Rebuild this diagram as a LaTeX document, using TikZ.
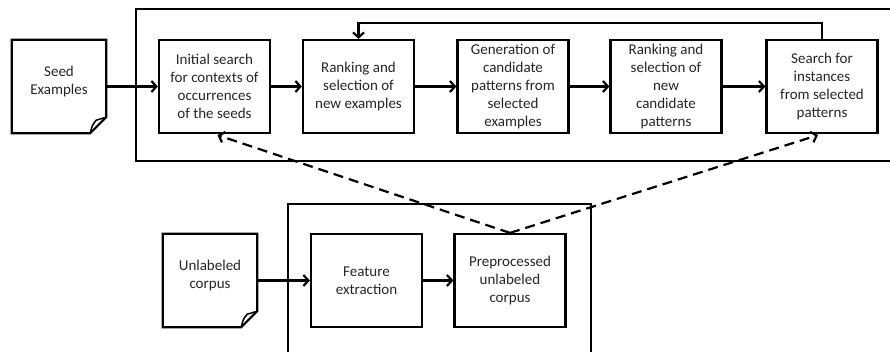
\documentclass[tikz,border=0pt]{standalone}
\usepackage{fontspec}
\setmainfont{Carlito}
\usetikzlibrary{arrows.meta,calc}
\begin{document}
\begin{tikzpicture}[x=1pt,y=-1pt,
  every node/.style={font=\fontsize{15}{18}\selectfont, text=black!85},
  stepbox/.style={draw=black, line width=2.2pt, minimum width=111pt,
    minimum height=93pt, inner sep=0pt, align=center},
  docbox/.style={minimum width=94pt, minimum height=93pt, inner sep=0pt},
  frame/.style={draw=black, line width=2.2pt},
  flow/.style={draw=black, line width=2.2pt,
    -{Straight Barb[length=5pt,width=11pt]}},
  link/.style={flow, dash pattern=on 10pt off 6pt}
]
\useasboundingbox (0,0) rectangle (890,352);
\clip (0,0) rectangle (890,352);

% enclosing frames (both run past the page edge)
\draw[frame] (136,9) rectangle (900,161);
\draw[frame] (288,204) rectangle (591,370);

% bootstrapping steps
\node[stepbox] (s1) at (214.5,86.5) {Initial search\\for contexts of\\occurrences\\of the seeds};
\node[stepbox] (s2) at (358.5,86.5) {Ranking and\\selection of\\new examples};
\node[stepbox] (s3) at (513,86.5) {Generation of\\candidate\\patterns from\\selected\\examples};
\node[stepbox] (s4) at (666,86.5) {Ranking and\\selection of\\new\\candidate\\patterns};
\node[stepbox] (s5) at (822,86.5) {Search for\\instances\\from selected\\patterns};

% preprocessing steps
\node[stepbox] (feat) at (366.5,280.5) {Feature\\extraction};
\node[stepbox] (prep) at (510,280.5) {Preprocessed\\unlabeled\\corpus};

% documents with a folded corner
\newcommand{\docshape}[1]{%
  \draw[line width=2.2pt, line join=miter]
    (#1.north west) -- (#1.north east) -- ($(#1.south east)+(0,-16)$)
    -- ($(#1.south east)+(-16,0)$) -- (#1.south west) -- cycle;
  \draw[line width=1.5pt, line join=round]
    ($(#1.south east)+(-16,0)$) .. controls ($(#1.south east)+(-14,-8)$) ..
    ($(#1.south east)+(-10,-13)$) -- ($(#1.south east)+(0,-16)$);
}
\node[docbox, label={[name=seedtxt, align=center, yshift=5pt]center:Seed\\Examples}] (seed) at (59,86.5) {};
\node[docbox, label={[name=corptxt, align=center, yshift=5pt]center:Unlabeled\\corpus}] (corpus) at (210,280.5) {};
\docshape{seed}
\docshape{corpus}

% main flow
\draw[flow] (seed.east) -- (s1.west);
\draw[flow] (s1) -- (s2);
\draw[flow] (s2) -- (s3);
\draw[flow] (s3) -- (s4);
\draw[flow] (s4) -- (s5);
\coordinate (fb) at (0,23);
\draw[flow] (s5.north) -- (s5.north |- fb) -| (s2.north);

\draw[flow] (corpus.east) -- (feat.west);
\draw[flow] (feat) -- (prep);

% corpus feeds the search steps
\draw[link] (prep.north) -- ($(s1.south)+(3,1)$);
\draw[link] (prep.north) -- ($(s5.south)+(-4,1)$);
\end{tikzpicture}
\end{document}
